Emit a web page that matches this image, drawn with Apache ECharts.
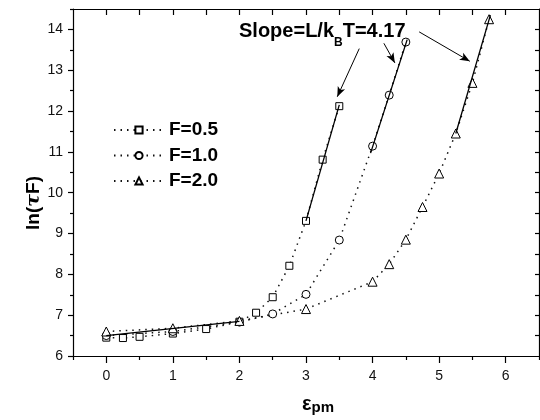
<!DOCTYPE html>
<html><head><meta charset="utf-8">
<script src="https://cdn.jsdelivr.net/npm/echarts@6/dist/echarts.min.js"></script>
<style>html,body{margin:0;padding:0;background:#fff}#c{width:540px;height:420px}</style>
</head><body><div id="c"></div>
<script>
// ---- data ----
const seriesNames = ['F=0.5', 'F=1.0', 'F=2.0'];
const x05 = [0, 0.25, 0.5, 1.0, 1.5, 2.0, 2.25, 2.5, 2.75, 3.0, 3.25, 3.5];
const y05 = [6.45, 6.44, 6.47, 6.55, 6.66, 6.84, 7.06, 7.44, 8.21, 9.31, 10.81, 12.12];
const x10 = [0, 1.0, 2.0, 2.5, 3.0, 3.5, 4.0, 4.25, 4.5];
const y10 = [6.5, 6.6, 6.83, 7.03, 7.51, 8.84, 11.14, 12.39, 13.69];
const x20 = [0, 1.0, 2.0, 3.0, 4.0, 4.25, 4.5, 4.75, 5.0, 5.25, 5.5, 5.75];
const y20 = [6.6, 6.68, 6.86, 7.15, 7.82, 8.25, 8.85, 9.65, 10.47, 11.45, 12.69, 14.25];
// solid fit lines (endpoints)
const fitLowX = [0, 2];       const fitLowY = [6.5, 6.85];
const fit05X = [3.0, 3.5];    const fit05Y = [9.31, 12.15];
const fit10X = [3.97, 4.52];  const fit10Y = [10.97, 13.75];
const fit20X = [5.25, 5.77];  const fit20Y = [11.45, 14.35];
// annotation arrows (data coordinates)
const arrowFromX = [3.80, 4.17, 4.70];  const arrowFromY = [13.53, 13.66, 13.94];
const arrowToX = [3.47, 4.335, 5.46];   const arrowToY = [12.35, 13.18, 13.22];
// ticks
const xMajor = [0, 1, 2, 3, 4, 5, 6];
const xMinor = [-0.5, 0.5, 1.5, 2.5, 3.5, 4.5, 5.5, 6.5];
const xTopTicks = [0, 0.5, 1, 1.5, 2, 2.5, 3, 3.5, 4, 4.5, 5, 5.5, 6];
const yMajor = [6, 7, 8, 9, 10, 11, 12, 13, 14];
const yMinor = [6.5, 7.5, 8.5, 9.5, 10.5, 11.5, 12.5, 13.5, 14.5];
const yRightTicks = [6.5, 7, 7.5, 8, 8.5, 9, 9.5, 10, 10.5, 11, 11.5, 12, 12.5, 13, 13.5, 14];
const annotationText = ['Slope=L/k', 'B', 'T=4.17'];
const yTitle = ['ln(', 'τ', 'F)'];
const xTitle = ['ε', 'pm'];

const FONT = 'Liberation Sans, Arial, Helvetica, sans-serif';
const zip = (a, b) => a.map((v, i) => [v, b[i]]);

const chart = echarts.init(document.getElementById('c'), null, {renderer: 'canvas'});
const X0 = -0.5, X1 = 6.5, Y0 = 6, Y1 = 14.5;

function xAx(extra) {
  return Object.assign({type: 'value', min: X0, max: X1, gridIndex: 0, splitLine: {show: false},
    axisLine: {show: false, onZero: false}, axisLabel: {show: false}, axisTick: {show: false}}, extra);
}
function yAx(extra) {
  return Object.assign({type: 'value', min: Y0, max: Y1, gridIndex: 0, splitLine: {show: false},
    axisLine: {show: false, onZero: false}, axisLabel: {show: false}, axisTick: {show: false}}, extra);
}
const black = '#000';

function dataSeries(name, xs, ys, symbol, size) {
  return {
    name, type: 'line', data: zip(xs, ys), symbol, symbolSize: size,
    showAllSymbol: true, z: 3,
    lineStyle: {color: '#111', width: 1.5, type: [1.5, 5]},
    itemStyle: {color: '#fff', borderColor: black, borderWidth: 1},
    emphasis: {disabled: true}
  };
}
function fitSeries(xs, ys) {
  return {type: 'line', data: zip(xs, ys), symbol: 'none', z: 4, silent: true,
    lineStyle: {color: black, width: 1.3, type: 'solid'}};
}

const option = {
  animation: false,
  backgroundColor: '#fff',
  grid: {left: 73, right: 1, top: 9, bottom: 64, containLabel: false},
  xAxis: [
    xAx({position: 'bottom', axisLine: {show: true, onZero: false, lineStyle: {color: black, width: 1.2}},
      axisTick: {show: true, inside: false, length: 7, customValues: xMajor, lineStyle: {color: black, width: 1.2}},
      axisLabel: {show: true, customValues: xMajor, margin: 13, color: '#111', fontSize: 14, fontFamily: FONT}}),
    xAx({position: 'bottom', axisTick: {show: true, inside: false, length: 4, customValues: xMinor, lineStyle: {color: black, width: 1.2}}}),
    xAx({position: 'top', axisLine: {show: true, onZero: false, lineStyle: {color: black, width: 1.2}},
      axisTick: {show: true, inside: true, length: 6, customValues: xTopTicks, lineStyle: {color: black, width: 1.2}}})
  ],
  yAxis: [
    yAx({position: 'left', axisLine: {show: true, onZero: false, lineStyle: {color: black, width: 1.2}},
      axisTick: {show: true, inside: false, length: 5, customValues: yMajor, lineStyle: {color: black, width: 1.2}},
      axisLabel: {show: true, customValues: yMajor, margin: 10, color: '#111', fontSize: 14, fontFamily: FONT}}),
    yAx({position: 'left', axisTick: {show: true, inside: false, length: 3, customValues: yMinor, lineStyle: {color: black, width: 1.2}}}),
    yAx({position: 'right', axisLine: {show: true, onZero: false, lineStyle: {color: black, width: 1.2}},
      axisTick: {show: true, inside: true, length: 4, customValues: yRightTicks, lineStyle: {color: black, width: 1.2}}})
  ],
  legend: {
    data: seriesNames, orient: 'vertical', left: 108, top: 115,
    itemWidth: 50, itemHeight: 9, itemGap: 5.5,
    textStyle: {fontSize: 19, fontWeight: 'bold', fontFamily: FONT, color: '#000', lineHeight: 20},
    selectedMode: false
  },
  series: [
    dataSeries(seriesNames[0], x05, y05, 'rect', 7),
    dataSeries(seriesNames[1], x10, y10, 'circle', 8),
    dataSeries(seriesNames[2], x20, y20, 'triangle', 9),
    fitSeries(fitLowX, fitLowY),
    fitSeries(fit05X, fit05Y),
    fitSeries(fit10X, fit10Y),
    fitSeries(fit20X, fit20Y),
    {type: 'line', data: [], silent: true, z: 5,
      markLine: {silent: true, animation: false, symbol: ['none', 'arrow'], symbolSize: [6, 10],
        label: {show: false}, lineStyle: {color: black, width: 1, type: 'solid'},
        emphasis: {disabled: true},
        data: arrowFromX.map((x, i) => [{coord: [x, arrowFromY[i]]}, {coord: [arrowToX[i], arrowToY[i]]}])}}
  ],
  graphic: [
    {type: 'text', x: 239, y: 21, silent: true, style: {
      text: '{a|' + annotationText[0] + '}{b|' + annotationText[1] + '}{a|' + annotationText[2] + '}',
      verticalAlign: 'top', align: 'left',
      rich: {a: {fontSize: 20, fontWeight: 'bold', fontFamily: FONT, fill: '#000', lineHeight: 24, verticalAlign: 'top'},
             b: {fontSize: 12, fontWeight: 'bold', fontFamily: FONT, fill: '#000', lineHeight: 28, verticalAlign: 'bottom'}}}},
    {type: 'text', x: 34, y: 203, rotation: Math.PI / 2, silent: true, style: {
      text: '{a|' + yTitle[0] + '}{t|' + yTitle[1] + '}{a|' + yTitle[2] + '}',
      align: 'center', verticalAlign: 'middle',
      rich: {a: {fontSize: 19, fontWeight: 'bold', fontFamily: FONT, fill: '#000'},
             t: {fontSize: 19, fontWeight: 'bold', fontStyle: 'italic', fontFamily: 'DejaVu Serif, serif', fill: '#000'}}}},
    {type: 'text', x: 318, y: 404, silent: true, style: {
      text: '{e|' + xTitle[0] + '}{s|' + xTitle[1] + '}',
      align: 'center', verticalAlign: 'middle',
      rich: {e: {fontSize: 20, fontWeight: 'bold', fontFamily: FONT, fill: '#000', lineHeight: 22},
             s: {fontSize: 15, fontWeight: 'bold', fontFamily: FONT, fill: '#000', lineHeight: 14, verticalAlign: 'bottom'}}}}
  ]
};
chart.setOption(option);
</script>
</body></html>
